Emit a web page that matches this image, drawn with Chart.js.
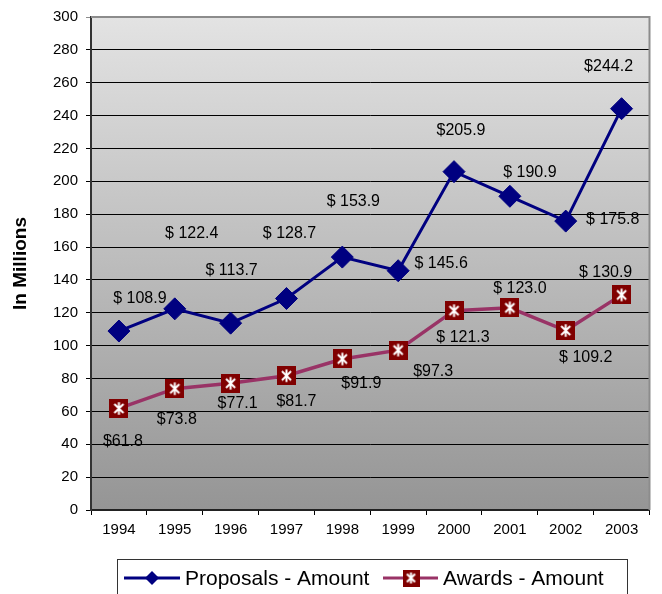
<!DOCTYPE html>
<html>
<head>
<meta charset="utf-8">
<script src="https://cdn.jsdelivr.net/npm/chart.js@4.4.1/dist/chart.umd.min.js"></script>
<style>
  html, body { margin: 0; padding: 0; background: #fff; }
  #wrap { width: 662px; height: 594px; position: relative; }
</style>
</head>
<body>
<div id="wrap"><canvas id="chart" width="662" height="594"></canvas></div>
<script>
// --- Data ---
const years = ['1994', '1995', '1996', '1997', '1998', '1999', '2000', '2001', '2002', '2003'];
const proposals = [108.9, 122.4, 113.7, 128.7, 153.9, 145.6, 205.9, 190.9, 175.8, 244.2];
const awards = [61.8, 73.8, 77.1, 81.7, 91.9, 97.3, 121.3, 123.0, 109.2, 130.9];
const yMin = 0, yMax = 300, yStep = 20;
const seriesNames = ['Proposals - Amount', 'Awards - Amount'];

// label placement (pixel offsets from each point, like Excel left them)
const proposalLabelOffsets = [[21, -32], [17, -75], [1, -53], [3, -65], [11, -55], [43, -7], [7, -41], [20, -24], [47, -2], [-13, -42]];
const awardLabelOffsets = [[4, 33], [2, 31], [7, 20], [10, 26], [19, 25], [35, 21], [9, 27], [10, -19], [20, 27], [-16, -22]];

const FONT = '"Liberation Sans", Arial, sans-serif';
const NAVY = '#000080';
const PLUM = '#993366';

// square dark red marker with a white asterisk
function makeAwardMarker(size) {
    const c = document.createElement('canvas');
    c.width = size; c.height = size;
    const g = c.getContext('2d');
    g.fillStyle = '#800000';
    g.fillRect(0, 0, size, size);
    g.strokeStyle = '#ffffff';
    g.lineWidth = 2;
    const m = size / 2, a = size * 0.24;
    g.beginPath();
    g.moveTo(m - a, m - a); g.lineTo(m + a, m + a);
    g.moveTo(m + a, m - a); g.lineTo(m - a, m + a);
    g.moveTo(m, m - a * 1.35); g.lineTo(m, m + a * 1.35);
    g.stroke();
    return c;
}
const awardMarker = makeAwardMarker(19);
const awardMarkerSmall = makeAwardMarker(17);

function fmtMoney(v) {
    const s = v.toFixed(1);
    return '$' + (s.charAt(0) === '1' ? ' ' : '') + s;
}

// --- Plugins ---
const plotBackground = {
    id: 'plotBackground',
    beforeDraw(chart) {
        const { ctx, chartArea: a } = chart;
        const grad = ctx.createLinearGradient(0, a.top, 0, a.bottom);
        grad.addColorStop(0, '#e3e3e3');
        grad.addColorStop(1, '#959595');
        ctx.save();
        ctx.fillStyle = grad;
        ctx.fillRect(a.left, a.top, a.right - a.left, a.bottom - a.top);
        ctx.restore();
    },
    afterDraw(chart) {
        const { ctx, chartArea: a } = chart;
        ctx.save();
        ctx.strokeStyle = '#8c8c8c';
        ctx.lineWidth = 2;
        ctx.beginPath();
        ctx.moveTo(a.left, a.top);
        ctx.lineTo(a.right, a.top);
        ctx.lineTo(a.right, a.bottom);
        ctx.stroke();
        ctx.restore();
    }
};

const valueLabels = {
    id: 'valueLabels',
    afterDatasetsDraw(chart) {
        const ctx = chart.ctx;
        const offsets = [proposalLabelOffsets, awardLabelOffsets];
        ctx.save();
        ctx.font = '16px ' + FONT;
        ctx.fillStyle = '#000';
        ctx.textAlign = 'center';
        ctx.textBaseline = 'middle';
        chart.data.datasets.forEach((ds, di) => {
            const meta = chart.getDatasetMeta(di);
            meta.data.forEach((pt, i) => {
                const off = offsets[di][i];
                ctx.fillText(fmtMoney(ds.data[i]), pt.x + off[0], pt.y + off[1]);
            });
        });
        ctx.restore();
    }
};

const boxLegend = {
    id: 'boxLegend',
    afterDraw(chart) {
        const ctx = chart.ctx;
        const y = 578;
        ctx.save();
        ctx.strokeStyle = '#333';
        ctx.lineWidth = 1;
        ctx.strokeRect(117.5, 559.5, 510, 60);

        // proposals
        ctx.strokeStyle = NAVY;
        ctx.lineWidth = 3;
        ctx.beginPath(); ctx.moveTo(124, y); ctx.lineTo(180, y); ctx.stroke();
        ctx.fillStyle = NAVY;
        ctx.beginPath();
        ctx.moveTo(152, y - 7); ctx.lineTo(159, y); ctx.lineTo(152, y + 7); ctx.lineTo(145, y);
        ctx.closePath(); ctx.fill();

        // awards
        ctx.strokeStyle = PLUM;
        ctx.beginPath(); ctx.moveTo(383, y); ctx.lineTo(438, y); ctx.stroke();
        ctx.drawImage(awardMarkerSmall, 411 - 8.5, y - 8.5);

        ctx.fillStyle = '#000';
        ctx.font = '21px ' + FONT;
        ctx.textAlign = 'left';
        ctx.textBaseline = 'middle';
        ctx.fillText(seriesNames[0], 185, y + 1);
        ctx.fillText(seriesNames[1], 443, y + 1);
        ctx.restore();
    }
};

// --- Chart ---
const ctx = document.getElementById('chart').getContext('2d');
new Chart(ctx, {
    type: 'line',
    data: {
        labels: years,
        datasets: [
            {
                label: seriesNames[0],
                data: proposals,
                borderColor: NAVY,
                borderWidth: 3,
                pointStyle: 'rectRot',
                pointRadius: 11,
                pointBackgroundColor: NAVY,
                pointBorderColor: NAVY,
                pointBorderWidth: 1,
                tension: 0
            },
            {
                label: seriesNames[1],
                data: awards,
                borderColor: PLUM,
                borderWidth: 3.5,
                pointStyle: awardMarker,
                pointRadius: 9,
                tension: 0
            }
        ]
    },
    options: {
        responsive: false,
        animation: false,
        events: [],
        layout: { padding: { top: 15, right: 10, left: 0, bottom: 0 } },
        plugins: {
            legend: { display: false },
            tooltip: { enabled: false }
        },
        scales: {
            x: {
                offset: true,
                grid: { offset: true, drawOnChartArea: false, drawTicks: true, tickLength: 5, color: '#000' },
                border: { color: '#222', width: 2 },
                ticks: { color: '#000', font: { family: FONT, size: 15 }, padding: 6, maxRotation: 0 },
                afterFit(scale) { scale.height = 84; }
            },
            y: {
                min: yMin,
                max: yMax,
                ticks: { stepSize: yStep, color: '#000', font: { family: FONT, size: 15 }, padding: 8 },
                grid: {
                    color: c => (c.tick && c.tick.value === yMax ? '#8c8c8c' : '#000'),
                    lineWidth: 1,
                    tickLength: 5
                },
                border: { color: '#333', width: 2 },
                title: {
                    display: true,
                    text: 'In Millions',
                    color: '#000',
                    font: { family: FONT, size: 19, weight: 'bold' },
                    padding: { top: 9, bottom: 0 }
                },
                afterFit(scale) { scale.width = 91; }
            }
        }
    },
    plugins: [plotBackground, valueLabels, boxLegend]
});
</script>
</body>
</html>
